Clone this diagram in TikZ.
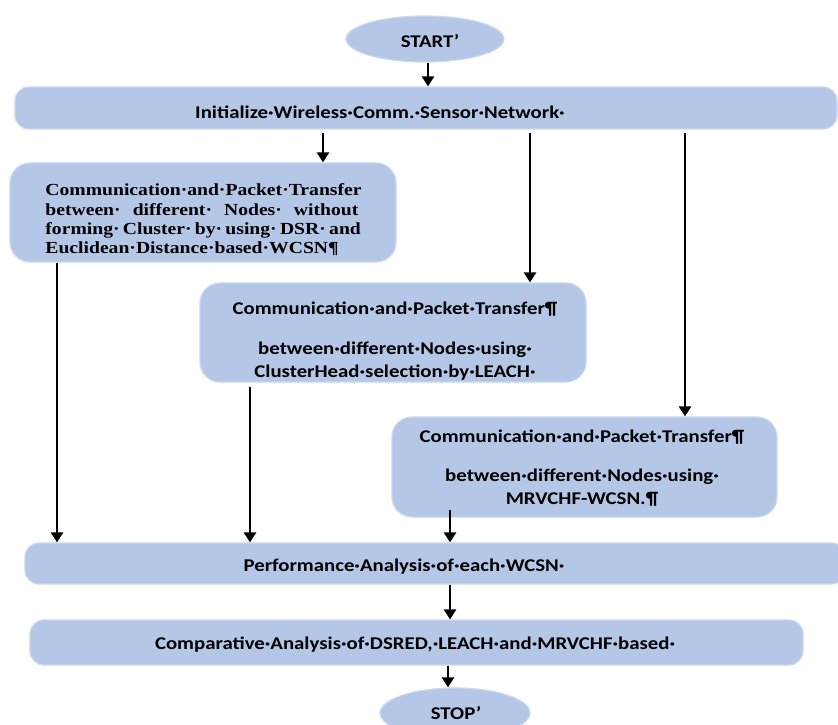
\documentclass[tikz,border=0pt]{standalone}
\usepackage{fontspec}
\setmainfont{Carlito}[FakeStretch=1.16]
\newfontfamily\tnr{Liberation Serif}[FakeStretch=1.16]
\usetikzlibrary{arrows.meta,shapes.geometric}
\definecolor{boxblue}{RGB}{180,199,231}
\definecolor{boxedge}{RGB}{203,216,239}
\begin{document}
\begin{tikzpicture}[x=1bp,y=-1bp,
  box/.style={draw=boxedge, line width=1.2bp, fill=boxblue, rounded corners=14bp, inner sep=0pt},
  oval/.style={ellipse, draw=boxedge, line width=1.2bp, fill=boxblue, inner sep=0pt},
  txt/.style={font=\bfseries\fontsize{18}{23}\selectfont, text=black, align=center, inner sep=0pt},
  serif/.style={font=\tnr\bfseries\fontsize{17}{19.4}\selectfont, text=black, align=left, inner sep=0pt},
  arr/.style={line width=2.6bp, -{Triangle[length=10bp,width=12bp]}}]
\useasboundingbox (0,0) rectangle (838,725);
\clip (0,0) rectangle (838,725);
\fill[white] (0,0) rectangle (838,725);

% shapes
\node[oval, minimum width=158bp, minimum height=46bp] (start) at (425,39) {};
\node[box, minimum width=822bp, minimum height=42bp] (init) at (426,108) {};
\node[box, rounded corners=20bp, minimum width=386bp, minimum height=99bp] (b1) at (203,212.5) {};
\node[box, rounded corners=20bp, minimum width=386bp, minimum height=99bp] (b2) at (393,332.5) {};
\node[box, rounded corners=20bp, minimum width=385bp, minimum height=100bp] (b3) at (584.5,467) {};
\node[box, minimum width=820bp, minimum height=41bp] (perf) at (435,563.5) {};
\node[box, minimum width=773bp, minimum height=45bp] (comp) at (416.5,642.5) {};
\node[oval, minimum width=150bp, minimum height=50bp] (stop) at (455,713) {};

% texts
\node[txt] (tstart) at (430,41) {START\symbol{"0027}};
\node[txt] (tinit) at (380,112) {Initialize·Wireless·Comm.·Sensor·Network·};
\node[serif] (t1) at (203.5,220) {Communication·and·Packet·Transfer\\
  \makebox[313bp][s]{between· different· Nodes· without}\\
  \makebox[313bp][s]{forming· Cluster· by· using· DSR· and}\\
  Euclidean·Distance·based·WCSN¶};
\node[txt] (t2) at (395,341) {Communication·and·Packet·Transfer¶\\[17bp]
  between·different·Nodes·using·\\ ClusterHead·selection·by·LEACH·};
\node[txt] (t3) at (582,468) {Communication·and·Packet·Transfer¶\\[17bp]
  between·different·Nodes·using·\\ MRVCHF-WCSN.¶};
\node[txt] (tperf) at (404,567) {Performance·Analysis·of·each·WCSN·};
\node[txt] (tcomp) at (415,645) {Comparative·Analysis·of·DSRED,·LEACH·and·MRVCHF·based·};
\node[txt] (tstop) at (456,713) {STOP\symbol{"0027}};

% connector x positions
\coordinate (xs) at (428,0);
\coordinate (xa) at (323,0);
\coordinate (xb) at (530,0);
\coordinate (xc) at (685,0);
\coordinate (xd) at (57,0);
\coordinate (xe) at (250,0);
\coordinate (xf) at (450,0);
\coordinate (xg) at (448,0);

% connectors
\draw[arr] (start.south -| xs) -- (init.north -| xs);
\draw[arr, shorten <=3bp] (init.south -| xa) -- (b1.north -| xa);
\draw[arr, shorten <=3bp] (init.south -| xb) -- (b2.north -| xb);
\draw[arr, shorten <=3bp] (init.south -| xc) -- (b3.north -| xc);
\draw[arr] (b1.south -| xd) -- (perf.north -| xd);
\draw[arr, shorten <=4bp] (b2.south -| xe) -- (perf.north -| xe);
\draw[arr, shorten <=-8bp] (b3.south -| xf) -- (perf.north -| xf);
\draw[arr] (perf.south -| xf) -- (comp.north -| xf);
\draw[arr] (comp.south -| xg) -- (stop.north -| xg);
\end{tikzpicture}
\end{document}
